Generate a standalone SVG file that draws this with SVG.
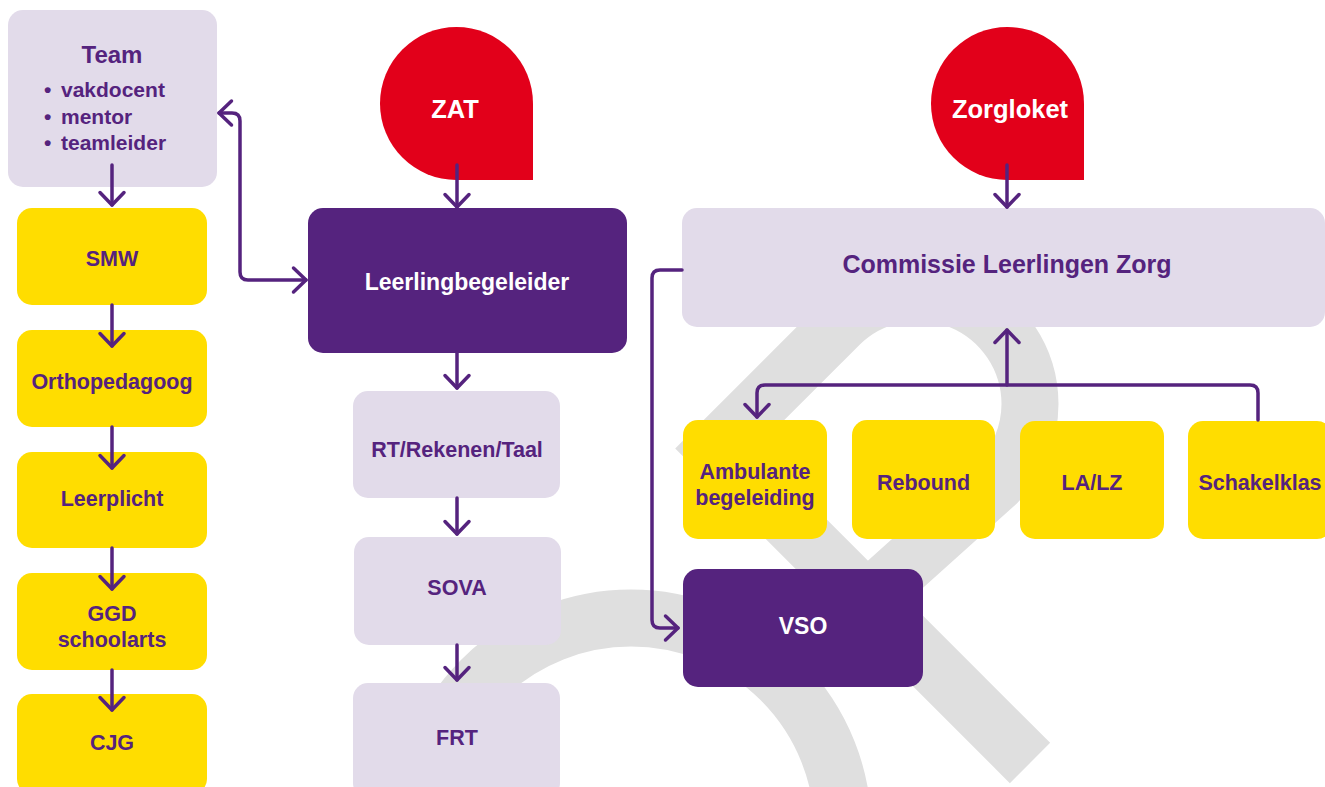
<svg xmlns="http://www.w3.org/2000/svg" width="1325" height="787" viewBox="0 0 1325 787">
<defs>
<style>
.lav{fill:#e2dbea}
.yel{fill:#ffdd00}
.pur{fill:#55237e}
.red{fill:#e2001a}
.bg{fill:none;stroke:#dfdfdf;stroke-width:57;stroke-linejoin:miter;stroke-linecap:butt}
text{font-family:"Liberation Sans",Arial,sans-serif;font-weight:bold;text-anchor:middle}
.t{fill:#55237e;font-size:21.5px}
.w{fill:#ffffff;font-size:23px}
.big{fill:#ffffff;font-size:25.5px}
.conn path{fill:none;stroke:#55237e;stroke-width:3.5;stroke-linecap:round;stroke-linejoin:round}
</style>
<marker id="arr" viewBox="-16 -16 32 32" markerWidth="32" markerHeight="32" markerUnits="userSpaceOnUse" refX="0" refY="0" orient="auto-start-reverse">
<path d="M-12.5 -12 L0 0 L-12.5 12" fill="none" stroke="#55237e" stroke-width="3.5" stroke-linecap="round" stroke-linejoin="round"/>
</marker>
</defs>
<rect width="1325" height="787" fill="#ffffff"/>
<g id="background">
<circle class="bg" cx="631" cy="830" r="212"/>
<path class="bg" d="M1030 763 L715.5 448.5 L839 325 A112 112 0 0 1 1030 404 A112 112 0 0 1 997 483 L800 660"/>
</g>
<g id="team">
<rect class="lav" x="8" y="10" width="209" height="177" rx="15"/>
<text x="112" y="63" style="fill:#55237e;font-size:24px">Team</text>
<text class="t" style="text-anchor:start;font-size:21px" y="97"><tspan x="44">•</tspan><tspan x="61">vakdocent</tspan></text>
<text class="t" style="text-anchor:start;font-size:21px" y="124"><tspan x="44">•</tspan><tspan x="61">mentor</tspan></text>
<text class="t" style="text-anchor:start;font-size:21px" y="150"><tspan x="44">•</tspan><tspan x="61">teamleider</tspan></text>
</g>
<g id="smw"><rect class="yel" x="17" y="208" width="190" height="97" rx="15"/><text class="t" x="112" y="266">SMW</text></g>
<g id="orthopedagoog"><rect class="yel" x="17" y="330" width="190" height="97" rx="15"/><text class="t" x="112" y="389">Orthopedagoog</text></g>
<g id="leerplicht"><rect class="yel" x="17" y="452" width="190" height="96" rx="15"/><text class="t" x="112" y="506">Leerplicht</text></g>
<g id="ggd"><rect class="yel" x="17" y="573" width="190" height="97" rx="15"/><text class="t" x="112" y="621">GGD</text><text class="t" x="112" y="647">schoolarts</text></g>
<g id="cjg"><rect class="yel" x="17" y="694" width="190" height="100" rx="15"/><text class="t" x="112" y="750">CJG</text></g>
<g id="zat"><path class="red" d="M456.5 27 A76.5 76.5 0 0 1 533 103.5 L533 180 L456.5 180 A76.5 76.5 0 0 1 456.5 27 Z"/><text class="big" x="455" y="118">ZAT</text></g>
<g id="leerlingbegeleider"><rect class="pur" x="308" y="208" width="319" height="145" rx="15"/><text class="w" x="467" y="290">Leerlingbegeleider</text></g>
<g id="rt"><rect class="lav" x="353" y="391" width="207" height="107" rx="15"/><text class="t" x="457" y="457">RT/Rekenen/Taal</text></g>
<g id="sova"><rect class="lav" x="354" y="537" width="207" height="108" rx="15"/><text class="t" x="457" y="595">SOVA</text></g>
<g id="frt"><rect class="lav" x="353" y="683" width="207" height="115" rx="15"/><text class="t" x="457" y="745">FRT</text></g>
<g id="zorgloket"><path class="red" d="M1007.5 27 A76.5 76.5 0 0 1 1084 103.5 L1084 180 L1007.5 180 A76.5 76.5 0 0 1 1007.5 27 Z"/><text class="big" x="1010" y="118">Zorgloket</text></g>
<g id="commissie"><rect class="lav" x="682" y="208" width="643" height="119" rx="15"/><text x="1007" y="273" style="fill:#55237e;font-size:25px">Commissie Leerlingen Zorg</text></g>
<g id="ambulante"><rect class="yel" x="683" y="420" width="144" height="119" rx="15"/><text class="t" x="755" y="479">Ambulante</text><text class="t" x="755" y="505">begeleiding</text></g>
<g id="rebound"><rect class="yel" x="852" y="420" width="143" height="119" rx="15"/><text class="t" x="923.5" y="490">Rebound</text></g>
<g id="lalz"><rect class="yel" x="1020" y="421" width="144" height="118" rx="15"/><text class="t" x="1092" y="490">LA/LZ</text></g>
<g id="schakelklas"><rect class="yel" x="1188" y="421" width="144" height="118" rx="15"/><text class="t" x="1260" y="490">Schakelklas</text></g>
<g id="vso"><rect class="pur" x="683" y="569" width="240" height="118" rx="15"/><text class="w" x="803" y="634">VSO</text></g>
<g id="connectors" class="conn">
<path d="M112 165 V205" marker-end="url(#arr)"/>
<path d="M112 305 V346" marker-end="url(#arr)"/>
<path d="M112 427 V468" marker-end="url(#arr)"/>
<path d="M112 548 V589" marker-end="url(#arr)"/>
<path d="M112 670 V710" marker-end="url(#arr)"/>
<path d="M219 113 H232 Q240 113 240 121 V272 Q240 280 248 280 H306" marker-start="url(#arr)" marker-end="url(#arr)"/>
<path d="M457 165 V207" marker-end="url(#arr)"/>
<path d="M457 353 V388" marker-end="url(#arr)"/>
<path d="M457 498 V534" marker-end="url(#arr)"/>
<path d="M457 645 V680" marker-end="url(#arr)"/>
<path d="M1007 165 V207" marker-end="url(#arr)"/>
<path d="M1007 385 V330" marker-end="url(#arr)"/>
<path d="M1258 420 V393 Q1258 385 1250 385 H765 Q757 385 757 393 V417" marker-end="url(#arr)"/>
<path d="M682 270 H660 Q652 270 652 278 V620 Q652 628 660 628 H678" marker-end="url(#arr)"/>
</g>
</svg>
